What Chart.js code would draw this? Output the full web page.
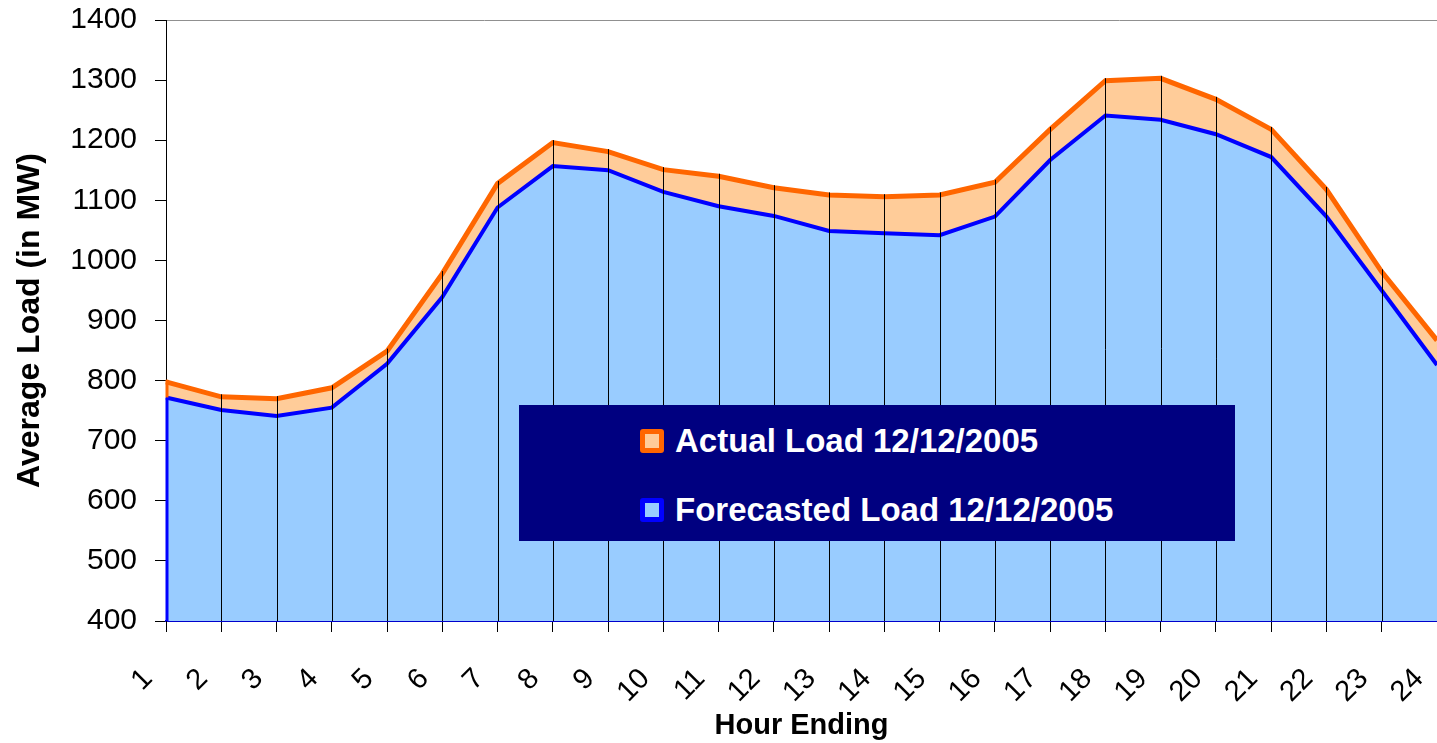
<!DOCTYPE html>
<html>
<head>
<meta charset="utf-8">
<script src="https://cdn.jsdelivr.net/npm/chart.js@4.4.1/dist/chart.umd.min.js"></script>
<style>
  html, body { margin: 0; padding: 0; background: #fff; }
  .wrap { position: relative; width: 1437px; height: 743px; }
  .legenda {
    position: absolute; left: 519px; top: 405px; width: 716px; height: 136px;
    background: #000080; font-family: 'Liberation Sans', Arial, sans-serif;
  }
  .legenda__item {
    position: absolute; display: flex; align-items: center;
    color: #fff; font-weight: bold; font-size: 33px; white-space: nowrap;
  }
  .legenda__marca { box-sizing: border-box; width: 24px; height: 24px; border-radius: 3px; margin-right: 11px; }
</style>
</head>
<body>
<div class="wrap">
  <canvas id="grafico" width="1437" height="743"></canvas>
  <div class="legenda" id="legenda"></div>
</div>
<script>
const horas = ['1','2','3','4','5','6','7','8','9','10','11','12','13','14','15','16','17','18','19','20','21','22','23','24']
const cargaReal = [798, 773, 770, 788, 849, 978, 1128, 1196, 1181, 1151, 1140, 1121, 1109, 1106, 1109, 1130, 1218, 1299, 1303, 1268, 1218, 1118, 981, 867]
const cargaPrevista = [772, 751, 741, 755, 828, 939, 1088, 1157, 1150, 1114, 1090, 1074, 1049, 1045, 1042, 1073, 1167, 1241, 1234, 1210, 1172, 1073, 950, 826]
const rotulos = ['Actual Load 12/12/2005', 'Forecasted Load 12/12/2005']

const fonte = "'Liberation Sans', Arial, sans-serif"

// linhas verticais do eixo ate a carga real
const linhasQueda = {
  id: 'linhasQueda',
  afterDatasetsDraw(chart) {
    const { ctx, scales: { x, y } } = chart
    const base = y.getPixelForValue(400)
    ctx.save()
    horas.forEach((h, i) => {
      const px = x.getPixelForValue(i)
      const topo = y.getPixelForValue(cargaReal[i])
      const meio = y.getPixelForValue(cargaPrevista[i])
      if (i === 0) {
        ctx.lineWidth = 3
        ctx.strokeStyle = '#0000ff'
        ctx.beginPath(); ctx.moveTo(px + 1, base); ctx.lineTo(px + 1, meio); ctx.stroke()
        ctx.strokeStyle = '#ff6600'
        ctx.beginPath(); ctx.moveTo(px + 1, meio); ctx.lineTo(px + 1, topo - 2); ctx.stroke()
        return
      }
      if (i === horas.length - 1) return
      ctx.lineWidth = 1
      ctx.strokeStyle = '#000'
      ctx.beginPath(); ctx.moveTo(Math.round(px) + 0.5, base); ctx.lineTo(Math.round(px) + 0.5, topo - 2.5); ctx.stroke()
    })
    ctx.restore()
  }
}

const $ctx = document.getElementById('grafico')
const grafico = new Chart($ctx, {
  type: 'line',
  data: {
    labels: horas,
    datasets: [{
      label: rotulos[0],
      data: cargaReal,
      borderColor: '#ff6600',
      backgroundColor: '#ffcc99',
      borderWidth: 5,
      fill: 'start',
      pointRadius: 0,
      tension: 0,
      order: 2
    }, {
      label: rotulos[1],
      data: cargaPrevista,
      borderColor: '#0000ff',
      backgroundColor: '#99ccff',
      borderWidth: 4,
      fill: 'start',
      pointRadius: 0,
      tension: 0,
      order: 1
    }]
  },
  options: {
    responsive: false,
    animation: false,
    layout: { padding: { top: 20, left: 0, right: 0, bottom: 0 } },
    plugins: {
      legend: { display: false },
      tooltip: { enabled: false }
    },
    scales: {
      x: {
        offset: false,
        z: 1,
        border: { color: '#0000cc', width: 2 },
        grid: { drawOnChartArea: false, tickLength: 11, tickColor: '#000' },
        ticks: {
          color: '#000', font: { family: fonte, size: 29 },
          minRotation: 45, maxRotation: 45, padding: 30, labelOffset: -18, autoSkip: false
        },
        title: {
          display: true, text: 'Hour Ending', color: '#000',
          font: { family: fonte, size: 29, weight: 'bold' }, padding: 0
        },
        afterFit: s => { s.height = 122; s.paddingRight = 0; s.paddingLeft = 0 }
      },
      y: {
        min: 400, max: 1400,
        border: { color: '#000', width: 1 },
        grid: {
          tickLength: 11, tickColor: '#000',
          color: c => c.tick && c.tick.value === 1400 ? '#909090' : 'rgba(0,0,0,0)'
        },
        ticks: {
          stepSize: 100, color: '#000', font: { family: fonte, size: 30 }, padding: 18,
          callback: v => String(v)
        },
        title: {
          display: true, text: 'Average Load (in MW)', color: '#000',
          font: { family: fonte, size: 32, weight: 'bold' }, padding: { top: 11, bottom: 0 }
        },
        afterFit: s => { s.width = 166; s.paddingTop = 0; s.paddingBottom = 0 }
      }
    }
  },
  plugins: [linhasQueda]
})

// legenda em html sobre a area do grafico
const $legenda = document.getElementById('legenda')
const coresMarca = [['#ff6600', '#ffcc99'], ['#0000ff', '#99ccff']]
const topos = [17, 86]
grafico.data.datasets.forEach((ds, i) => {
  const item = document.createElement('div')
  item.className = 'legenda__item'
  item.style.left = '121px'
  item.style.top = topos[i] + 'px'
  const marca = document.createElement('span')
  marca.className = 'legenda__marca'
  marca.style.border = '5px solid ' + coresMarca[i][0]
  marca.style.background = coresMarca[i][1]
  const texto = document.createElement('span')
  texto.textContent = ds.label
  item.appendChild(marca)
  item.appendChild(texto)
  $legenda.appendChild(item)
})
</script>
</body>
</html>
